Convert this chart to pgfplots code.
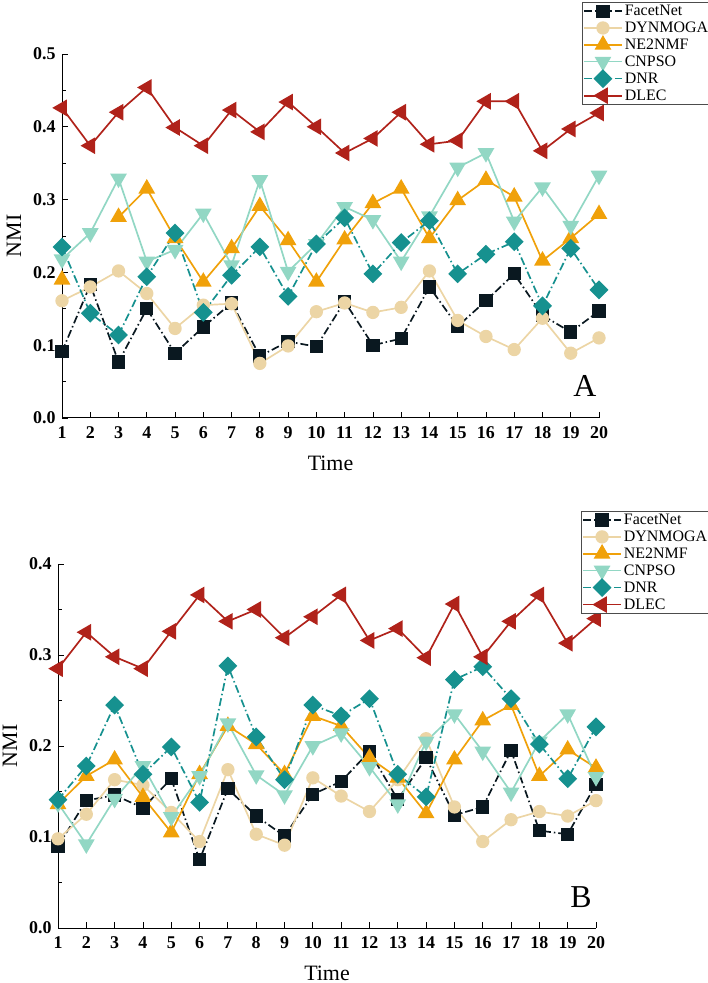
\documentclass[border=0pt]{standalone}
\usepackage{fontspec}
\setmainfont{Liberation Serif}
\newfontfamily\tickfont{Liberation Serif Bold}
\usepackage{pgfplots}
\pgfplotsset{compat=1.18}
\definecolor{cF}{HTML}{0A1820}
\definecolor{cD}{HTML}{ECD5A5}
\definecolor{cN}{HTML}{F0A10A}
\definecolor{cC}{HTML}{92D7C4}
\definecolor{cR}{HTML}{16918F}
\definecolor{cL}{HTML}{B0221A}
\pgfplotsset{
  myax/.style={scale only axis, axis x line*=bottom, axis y line*=left,
    xmin=1, xmax=20, ymin=0, xtick={1,...,20}, minor y tick num=1,
    tick align=inside, major tick length=6bp, minor tick length=4bp,
    tick style={black, line width=0.8pt}, axis line style={black, line width=1pt},
    ticklabel style={font=\tickfont\fontsize{18}{20}\selectfont},
    xticklabel style={yshift=-5bp},
    yticklabel style={xshift=-3bp},
    /pgf/number format/assume math mode=true,
    yticklabel style={/pgf/number format/fixed, /pgf/number format/fixed zerofill, /pgf/number format/precision=1},
    xlabel=Time, ylabel=NMI,
    label style={font=\fontsize{22}{24}\selectfont},
    xlabel style={at={(axis description cs:0.5,0)}, anchor=center, yshift=-45bp},
    ylabel style={at={(axis description cs:0,0.5)}, anchor=center, yshift=48bp},
    clip=false, unbounded coords=jump,
    legend cell align=left,
    legend style={anchor=north west, draw=black!70, line width=0.6pt,
      font=\fontsize{16}{18}\selectfont, inner sep=1pt, row sep=0.8pt},
    legend image code/.code={\draw[mark repeat=2,mark phase=2] plot coordinates {(0bp,0bp) (19bp,0bp) (38bp,0bp)};},
  },
  sF/.style={cF, line width=1.7pt, dash pattern=on 8pt off 3pt on 1.5pt off 3pt, mark=square*, mark size=5.8bp, mark options={solid, fill=cF, draw=cF}},
  sD/.style={cD, line width=1.7pt, solid, mark=*, mark size=5.8bp, mark options={solid, fill=cD, draw=cD}},
  sN/.style={cN, line width=1.7pt, solid, mark=triangle*, mark size=8bp, mark options={solid, fill=cN, draw=cN}},
  sC/.style={cC, line width=1.7pt, solid, mark=triangle*, mark size=8bp, mark options={solid, fill=cC, draw=cC, rotate=180}},
  sR/.style={cR, line width=1.7pt, dash pattern=on 8pt off 3pt on 1.5pt off 3pt, mark=square*, mark size=5.8bp, mark options={solid, fill=cR, draw=cR, rotate=45}},
  sL/.style={cL, line width=1.7pt, solid, mark=triangle*, mark size=8bp, mark options={solid, fill=cL, draw=cL, rotate=90}},
}
\begin{document}
\begin{tikzpicture}
\useasboundingbox (0,0) rectangle (708bp,983bp);
% ---------------- Panel A ----------------
\begin{axis}[myax, at={(62bp,565bp)}, anchor=south west, width=537bp, height=364bp,
  ymax=0.5, ytick={0,0.1,...,0.5},
  legend style={at={(0.968,1.143)}}]
\addplot[sF] coordinates {(1,0.091)(2,0.183)(3,0.077)(4,0.150)(5,0.089)(6,0.125)(7,0.158)(8,0.085)(9,0.105)(10,0.098)(11,0.160)(12,0.100)(13,0.109)(14,0.180)(15,0.126)(16,0.161)(17,0.198)(18,0.141)(19,0.118)(20,0.147)};
\addlegendentry{FacetNet}
\addplot[sD] coordinates {(1,0.161)(2,0.180)(3,0.202)(4,0.171)(5,0.123)(6,0.155)(7,0.157)(8,0.075)(9,0.099)(10,0.146)(11,0.158)(12,0.145)(13,0.152)(14,0.202)(15,0.134)(16,0.112)(17,0.094)(18,0.137)(19,0.089)(20,0.110)};
\addlegendentry{DYNMOGA}
\addplot[sN] coordinates {(1,0.190)(2,nan)(3,0.276)(4,0.315)(5,0.247)(6,0.187)(7,0.233)(8,0.291)(9,0.244)(10,0.187)(11,0.245)(12,0.295)(13,0.315)(14,0.247)(15,0.299)(16,0.327)(17,0.304)(18,0.216)(19,0.247)(20,0.280)};
\addlegendentry{NE2NMF}
\addplot[sC] coordinates {(1,0.218)(2,0.254)(3,0.329)(4,0.215)(5,0.231)(6,0.281)(7,0.210)(8,0.327)(9,0.201)(10,0.239)(11,0.290)(12,0.272)(13,0.215)(14,0.277)(15,0.344)(16,0.364)(17,0.270)(18,0.317)(19,0.264)(20,0.333)};
\addlegendentry{CNPSO}
\addplot[sR] coordinates {(1,0.235)(2,0.144)(3,0.114)(4,0.194)(5,0.254)(6,0.145)(7,0.196)(8,0.235)(9,0.167)(10,0.239)(11,0.275)(12,0.198)(13,0.241)(14,0.271)(15,0.198)(16,0.225)(17,0.242)(18,0.154)(19,0.233)(20,0.176)};
\addlegendentry{DNR}
\addplot[sL] coordinates {(1,0.426)(2,0.374)(3,0.420)(4,0.454)(5,0.399)(6,0.374)(7,0.423)(8,0.393)(9,0.434)(10,0.400)(11,0.364)(12,0.384)(13,0.420)(14,0.376)(15,0.381)(16,0.435)(17,0.435)(18,0.367)(19,0.397)(20,0.419)};
\addlegendentry{DLEC}
\node[font=\fontsize{32}{34}\selectfont] at (axis cs:19.5,0.044) {A};
\end{axis}
% ---------------- Panel B ----------------
\begin{axis}[myax, at={(58bp,55bp)}, anchor=south west, width=538bp, height=364bp,
  ymax=0.4, ytick={0,0.1,...,0.4},
  legend style={at={(0.972,1.146)}}]
\addplot[sF] coordinates {(1,0.090)(2,0.140)(3,0.146)(4,0.132)(5,0.164)(6,0.075)(7,0.153)(8,0.123)(9,0.101)(10,0.147)(11,0.161)(12,0.194)(13,0.141)(14,0.187)(15,0.124)(16,0.133)(17,0.195)(18,0.107)(19,0.103)(20,0.158)};
\addlegendentry{FacetNet}
\addplot[sD] coordinates {(1,0.098)(2,0.125)(3,0.163)(4,0.157)(5,0.127)(6,0.095)(7,0.174)(8,0.103)(9,0.091)(10,0.165)(11,0.145)(12,0.128)(13,0.163)(14,0.208)(15,0.133)(16,0.095)(17,0.119)(18,0.128)(19,0.123)(20,0.140)};
\addlegendentry{DYNMOGA}
\addplot[sN] coordinates {(1,0.136)(2,0.167)(3,0.185)(4,0.144)(5,0.105)(6,0.169)(7,0.222)(8,0.202)(9,0.169)(10,0.233)(11,0.222)(12,0.187)(13,0.165)(14,0.126)(15,0.185)(16,0.228)(17,0.245)(18,0.167)(19,0.196)(20,0.176)};
\addlegendentry{NE2NMF}
\addplot[sC] coordinates {(1,0.137)(2,0.092)(3,0.142)(4,0.178)(5,0.122)(6,0.167)(7,0.225)(8,0.168)(9,0.146)(10,0.200)(11,0.214)(12,0.177)(13,0.136)(14,0.205)(15,0.235)(16,0.194)(17,0.149)(18,0.205)(19,0.235)(20,0.166)};
\addlegendentry{CNPSO}
\addplot[sR] coordinates {(1,0.141)(2,0.178)(3,0.245)(4,0.169)(5,0.199)(6,0.138)(7,0.288)(8,0.210)(9,0.163)(10,0.245)(11,0.233)(12,0.252)(13,0.169)(14,0.144)(15,0.273)(16,0.287)(17,0.252)(18,0.202)(19,0.164)(20,0.221)};
\addlegendentry{DNR}
\addplot[sL] coordinates {(1,0.285)(2,0.325)(3,0.298)(4,0.285)(5,0.326)(6,0.366)(7,0.337)(8,0.350)(9,0.319)(10,0.342)(11,0.366)(12,0.316)(13,0.329)(14,0.297)(15,0.356)(16,0.298)(17,0.337)(18,0.366)(19,0.313)(20,0.340)};
\addlegendentry{DLEC}
\node[font=\fontsize{32}{34}\selectfont] at (axis cs:19.47,0.034) {B};
\end{axis}
\end{tikzpicture}
\end{document}
